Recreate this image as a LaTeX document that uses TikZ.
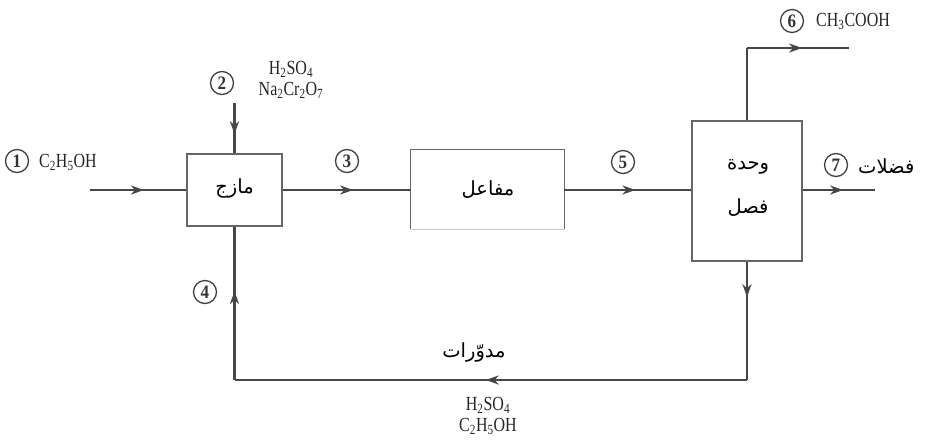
\documentclass[tikz,border=0pt]{standalone}
\usepackage{fontspec}
\setmainfont{Liberation Serif}
\newfontfamily\chemfont[FakeStretch=0.8]{Liberation Serif}
\newfontfamily\numfont[FakeStretch=0.9]{Liberation Serif Bold}
\newfontfamily\arabicfont[Script=Arabic]{DejaVu Sans}
\TeXXeTstate=1
\usetikzlibrary{arrows.meta,decorations.markings}
\newcommand{\ar}[1]{{\arabicfont\beginR #1\endR}}
\begin{document}
\begin{tikzpicture}[x=1pt,y=-1pt,
  flow/.style={draw=black!72,line width=2.1pt},
  arrowat/.style={postaction={decorate},decoration={markings,
     mark=at position #1 with {\arrow[black!72]{Stealth[length=13pt,width=9pt,inset=4pt]}}}},
  unit/.style={draw=black!60,line width=1.3pt,fill=white,inner sep=0pt},
  num/.style={circle,draw=black!75,line width=1.3pt,minimum size=23pt,inner sep=0pt,
     font=\numfont\fontsize{19}{19}\selectfont,text=black!80},
  chem/.style={font=\chemfont\fontsize{20}{21}\selectfont,text=black!85,inner sep=0pt,align=center},
  arab/.style={font=\fontsize{19.5}{26}\selectfont,inner sep=0pt,align=center}
]
\useasboundingbox (0,0) rectangle (928,440);

% units
\node[unit,minimum width=95pt,minimum height=72pt] (mix) at (234.5,190) {};
\node[minimum width=153pt,minimum height=79pt,inner sep=0pt] (rea) at (487.5,189.5) {};
\node[unit,minimum width=110pt,minimum height=140pt] (sep) at (747,191) {};
\draw[black!60,line width=1.3pt] (rea.south west) -- (rea.north west) -- (rea.north east) -- (rea.south east);
\draw[black!22,line width=0.8pt] (rea.south west) -- (rea.south east);

% coordinates
\coordinate (in1) at (90,190);
\coordinate (in2) at (234.5,103);
\coordinate (t1) at (747,48);
\coordinate (t2) at (849,48);
\coordinate (r1) at (875,190);
\coordinate (b1) at (747,380);
\coordinate (b2) at (234.5,380);

% streams
\draw[flow,arrowat=0.56] (in1) -- (mix.west);
\draw[flow,arrowat=0.62] (in2) -- (mix.north);
\draw[flow,arrowat=0.55] (mix.east) -- (rea.west |- mix.east);
\draw[flow,arrowat=0.56] (rea.east |- mix.east) -- (sep.west |- mix.east);
\draw[flow] (sep.north) -- (t1);
\draw[flow,arrowat=0.54] (t1) -- (t2);
\draw[flow,arrowat=0.56] (sep.east |- mix.east) -- (r1);
\draw[flow,arrowat=0.30] (sep.south) -- (b1);
\draw[flow,arrowat=0.51] (b1) -- (b2);
\draw[flow,arrowat=0.58] (b2) -- (mix.south);

% unit labels
\node[arab] (lmix) at (234.5,188) {\ar{مازج}};
\node[arab] (lrea) at (488,190) {\ar{مفاعل}};
\node[arab] (lsep1) at (748,167) {\ar{وحدة}};
\node[arab] (lsep2) at (748,208) {\ar{فصل}};

% stream labels
\node[num] (n1) at (17,161) {1};
\node[chem,anchor=west] (s1) at (39,162) {C\textsubscript{2}H\textsubscript{5}OH};
\node[num] (n2) at (222,83) {2};
\node[chem] (s2) at (291,80) {H\textsubscript{2}SO\textsubscript{4}\\Na\textsubscript{2}Cr\textsubscript{2}O\textsubscript{7}};
\node[num] (n3) at (347,161) {3};
\node[num] (n5) at (623,162) {5};
\node[num] (n6) at (792,21) {6};
\node[chem,anchor=west] (s6) at (816,21) {CH\textsubscript{3}COOH};
\node[num] (n7) at (836,165) {7};
\node[arab,anchor=west] (s7) at (858,166) {\ar{فضلات}};
\node[num] (n4) at (205,292) {4};
\node[arab] (s4) at (474,352) {\ar{مدوّرات}};
\node[chem] (s8) at (488,416) {H\textsubscript{2}SO\textsubscript{4}\\C\textsubscript{2}H\textsubscript{5}OH};
\end{tikzpicture}
\end{document}
